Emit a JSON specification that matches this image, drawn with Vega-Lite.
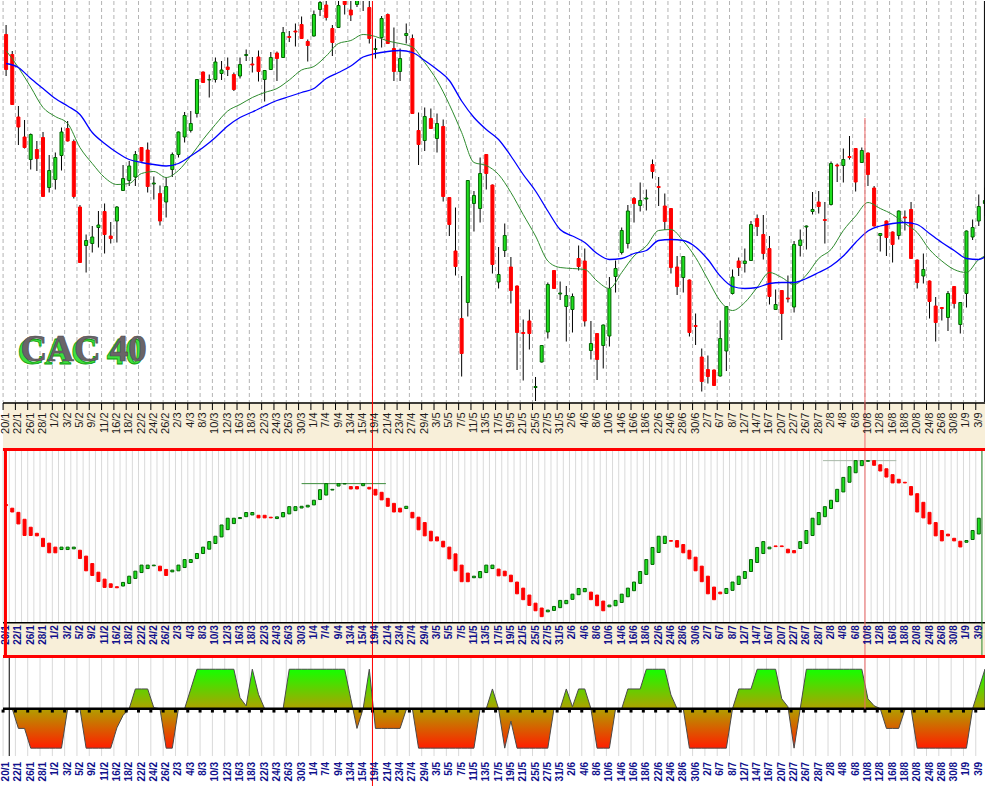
{
"$schema":"https://vega.github.io/schema/vega-lite/v6.json",
"padding":0,"spacing":0,"bounds":"flush","background":"white",
"config":{"view":{"stroke":null},"font":"Liberation Sans"},
"datasets":{"p":[
{"i":0,"d":"20/1","o":4033,"h":4052,"l":3950,"c":3963,"g":4001,"b":3975,"io":68.3,"ic":67.7,"s":0},
{"i":1,"d":"21/1","o":3993,"h":4000,"l":3892,"c":3893,"io":66.2,"ic":64.0,"s":0},
{"i":2,"d":"22/1","o":3868,"h":3890,"l":3812,"c":3848,"g":3967,"b":3967,"io":63.8,"ic":57.1,"s":-1},
{"i":3,"d":"25/1","o":3828,"h":3862,"l":3805,"c":3807,"io":59.8,"ic":50.4,"s":-1},
{"i":4,"d":"26/1","o":3783,"h":3835,"l":3763,"c":3833,"g":3928,"b":3945,"io":55.2,"ic":50.4,"s":-2},
{"i":5,"d":"27/1","o":3803,"h":3820,"l":3760,"c":3785,"io":51.7,"ic":50.2,"s":-2},
{"i":6,"d":"28/1","o":3827,"h":3838,"l":3708,"c":3709,"g":3887,"b":3925,"io":48.8,"ic":44.0,"s":-2},
{"i":7,"d":"29/1","o":3727,"h":3792,"l":3717,"c":3761,"io":46.0,"ic":40.4,"s":-2},
{"i":8,"d":"1/2","o":3743,"h":3797,"l":3723,"c":3787,"g":3869,"b":3905,"io":43.7,"ic":40.4,"s":-2},
{"i":9,"d":"2/2","o":3791,"h":3847,"l":3761,"c":3838,"io":42.3,"ic":43.7,"s":-2},
{"i":10,"d":"3/2","o":3845,"h":3860,"l":3819,"c":3820,"g":3855,"b":3890,"io":42.3,"ic":43.7,"s":0},
{"i":11,"d":"4/2","o":3819,"h":3823,"l":3705,"c":3709,"io":42.7,"ic":43.7,"s":0},
{"i":12,"d":"5/2","o":3688,"h":3692,"l":3576,"c":3577,"g":3807,"b":3873,"io":41.9,"ic":37.1,"s":0},
{"i":13,"d":"8/2","o":3611,"h":3633,"l":3557,"c":3621,"io":38.5,"ic":30.0,"s":-2},
{"i":14,"d":"9/2","o":3615,"h":3650,"l":3597,"c":3628,"g":3775,"b":3837,"io":34.2,"ic":27.3,"s":-2},
{"i":15,"d":"10/2","o":3647,"h":3680,"l":3607,"c":3652,"io":29.2,"ic":23.8,"s":-2},
{"i":16,"d":"11/2","o":3679,"h":3695,"l":3595,"c":3633,"g":3747,"b":3815,"io":25.2,"ic":20.4,"s":-2},
{"i":17,"d":"15/2","o":3630,"h":3658,"l":3615,"c":3625,"io":22.5,"ic":20.4,"s":-2},
{"i":18,"d":"16/2","o":3660,"h":3690,"l":3617,"c":3688,"g":3733,"b":3797,"io":20.8,"ic":20.2,"s":-0.97},
{"i":19,"d":"17/2","o":3721,"h":3772,"l":3720,"c":3745,"io":21.2,"ic":23.3,"s":-0.34},
{"i":20,"d":"18/2","o":3741,"h":3780,"l":3730,"c":3770,"g":3735,"b":3783,"io":22.7,"ic":26.9,"s":0},
{"i":21,"d":"19/2","o":3748,"h":3800,"l":3730,"c":3793,"io":25.6,"ic":29.8,"s":1},
{"i":22,"d":"22/2","o":3807,"h":3808,"l":3779,"c":3780,"g":3755,"b":3777,"io":29.0,"ic":33.3,"s":1},
{"i":23,"d":"23/2","o":3802,"h":3817,"l":3717,"c":3729,"io":31.3,"ic":33.3,"s":1},
{"i":24,"d":"24/2","o":3734,"h":3749,"l":3703,"c":3736,"g":3759,"b":3773,"io":32.9,"ic":33.3,"s":0.05},
{"i":25,"d":"25/2","o":3715,"h":3731,"l":3651,"c":3660,"io":32.7,"ic":30.0,"s":0},
{"i":26,"d":"26/2","o":3698,"h":3747,"l":3667,"c":3729,"g":3747,"b":3770,"io":30.8,"ic":27.3,"s":-2},
{"i":27,"d":"1/3","o":3763,"h":3797,"l":3748,"c":3793,"io":29.4,"ic":30.4,"s":-2},
{"i":28,"d":"2/3","o":3793,"h":3839,"l":3787,"c":3838,"g":3761,"b":3775,"io":30.0,"ic":33.3,"s":0},
{"i":29,"d":"3/3","o":3828,"h":3878,"l":3817,"c":3871,"io":31.9,"ic":36.5,"s":0},
{"i":30,"d":"4/3","o":3841,"h":3880,"l":3837,"c":3855,"g":3790,"b":3790,"io":34.8,"ic":36.5,"s":1},
{"i":31,"d":"5/3","o":3875,"h":3944,"l":3867,"c":3943,"io":37.1,"ic":40.0,"s":2},
{"i":32,"d":"8/3","o":3958,"h":3959,"l":3936,"c":3937,"g":3823,"b":3807,"io":40.0,"ic":43.7,"s":2},
{"i":33,"d":"9/3","o":3942,"h":3953,"l":3907,"c":3943,"io":42.5,"ic":46.9,"s":2},
{"i":34,"d":"10/3","o":3943,"h":3987,"l":3937,"c":3978,"g":3853,"b":3827,"io":45.8,"ic":50.0,"s":2},
{"i":35,"d":"11/3","o":3955,"h":3980,"l":3942,"c":3962,"io":49.6,"ic":56.5,"s":2},
{"i":36,"d":"12/3","o":3968,"h":3987,"l":3950,"c":3963,"g":3880,"b":3850,"io":53.8,"ic":60.4,"s":2},
{"i":37,"d":"15/3","o":3953,"h":3957,"l":3920,"c":3923,"io":57.3,"ic":60.4,"s":2},
{"i":38,"d":"16/3","o":3950,"h":3987,"l":3945,"c":3973,"g":3893,"b":3867,"io":60.2,"ic":60.8,"s":0.56},
{"i":39,"d":"17/3","o":3991,"h":4003,"l":3980,"c":3993,"io":61.3,"ic":63.7,"s":0.14},
{"i":40,"d":"18/3","o":3974,"h":3988,"l":3957,"c":3972,"g":3907,"b":3878,"io":62.3,"ic":63.7,"s":2},
{"i":41,"d":"19/3","o":3988,"h":4001,"l":3939,"c":3959,"io":62.1,"ic":60.6,"s":0.73},
{"i":42,"d":"22/3","o":3943,"h":3962,"l":3899,"c":3961,"g":3917,"b":3890,"io":62.1,"ic":60.6,"s":0},
{"i":43,"d":"23/3","o":3963,"h":3998,"l":3962,"c":3987,"io":61.0,"ic":60.6,"s":0},
{"i":44,"d":"24/3","o":3996,"h":3999,"l":3940,"c":3985,"g":3925,"b":3901,"io":60.2,"ic":61.2,"s":0},
{"i":45,"d":"25/3","o":3987,"h":4048,"l":3986,"c":4037,"io":61.2,"ic":63.7,"s":0},
{"i":46,"d":"26/3","o":4029,"h":4040,"l":4018,"c":4027,"g":3942,"b":3909,"io":62.9,"ic":67.1,"s":2},
{"i":47,"d":"29/3","o":4040,"h":4055,"l":4009,"c":4038,"io":64.8,"ic":67.1,"s":2},
{"i":48,"d":"30/3","o":4053,"h":4069,"l":4024,"c":4025,"g":3962,"b":3917,"io":66.3,"ic":67.3,"s":2},
{"i":49,"d":"31/3","o":4019,"h":4023,"l":3979,"c":4011,"io":66.9,"ic":67.9,"s":2},
{"i":50,"d":"1/4","o":4030,"h":4081,"l":4029,"c":4073,"g":3969,"b":3925,"io":68.1,"ic":70.8,"s":2},
{"i":51,"d":"6/4","o":4083,"h":4100,"l":4070,"c":4097,"io":71.2,"ic":76.9,"s":2},
{"i":52,"d":"7/4","o":4092,"h":4100,"l":4061,"c":4067,"g":3990,"b":3945,"io":73.8,"ic":80.4,"s":2},
{"i":53,"d":"8/4","o":4045,"h":4052,"l":3990,"c":4017,"io":76.7,"ic":77.1,"s":2},
{"i":54,"d":"9/4","o":4047,"h":4105,"l":4046,"c":4091,"g":4015,"b":3957,"io":79.0,"ic":80.4,"s":2},
{"i":55,"d":"12/4","o":4105,"h":4110,"l":4073,"c":4093,"io":80.2,"ic":80.4,"s":2},
{"i":56,"d":"13/4","o":4082,"h":4105,"l":4060,"c":4072,"g":4021,"b":3970,"io":78.7,"ic":77.3,"s":0.5},
{"i":57,"d":"14/4","o":4093,"h":4110,"l":4088,"c":4102,"io":78.7,"ic":77.3,"s":-1},
{"i":58,"d":"15/4","o":4118,"h":4125,"l":4080,"c":4106,"g":4033,"b":3988,"io":79.2,"ic":80.4,"s":0},
{"i":59,"d":"16/4","o":4087,"h":4105,"l":4015,"c":4025,"io":78.3,"ic":77.3,"s":2},
{"i":60,"d":"19/4","o":4003,"h":4025,"l":3985,"c":4005,"g":4029,"b":3995,"io":77.1,"ic":73.8,"s":-1},
{"i":61,"d":"20/4","o":4027,"h":4070,"l":4007,"c":4065,"io":75.4,"ic":71.0,"s":-1},
{"i":62,"d":"21/4","o":4073,"h":4075,"l":4014,"c":4015,"g":4020,"b":3999,"io":71.9,"ic":67.3,"s":-1},
{"i":63,"d":"22/4","o":4005,"h":4047,"l":3940,"c":3959,"io":69.0,"ic":64.0,"s":-1},
{"i":64,"d":"23/4","o":3959,"h":4005,"l":3940,"c":3985,"g":4015,"b":4001,"io":66.2,"ic":64.0,"s":-1},
{"i":65,"d":"26/4","o":4031,"h":4055,"l":4015,"c":4035,"io":66.0,"ic":67.3,"s":-0.05},
{"i":66,"d":"27/4","o":4025,"h":4033,"l":3874,"c":3875,"g":4008,"b":3997,"io":63.8,"ic":60.6,"s":0},
{"i":67,"d":"28/4","o":3841,"h":3877,"l":3772,"c":3813,"io":61.0,"ic":53.7,"s":-2},
{"i":68,"d":"29/4","o":3821,"h":3887,"l":3800,"c":3869,"g":3977,"b":3981,"io":57.9,"ic":50.2,"s":-2},
{"i":69,"d":"30/4","o":3865,"h":3885,"l":3844,"c":3845,"io":52.9,"ic":47.3,"s":-2},
{"i":70,"d":"3/5","o":3825,"h":3875,"l":3797,"c":3855,"g":3941,"b":3963,"io":49.6,"ic":47.3,"s":-2},
{"i":71,"d":"4/5","o":3849,"h":3863,"l":3699,"c":3709,"io":47.1,"ic":43.8,"s":-2},
{"i":72,"d":"5/5","o":3707,"h":3708,"l":3630,"c":3653,"g":3893,"b":3941,"io":43.7,"ic":36.9,"s":-2},
{"i":73,"d":"6/5","o":3600,"h":3687,"l":3551,"c":3569,"io":39.8,"ic":30.0,"s":-2},
{"i":74,"d":"7/5","o":3465,"h":3550,"l":3349,"c":3395,"g":3837,"b":3900,"io":33.3,"ic":23.7,"s":-2},
{"i":75,"d":"10/5","o":3497,"h":3742,"l":3469,"c":3741,"io":28.7,"ic":23.7,"s":-2},
{"i":76,"d":"11/5","o":3695,"h":3720,"l":3639,"c":3711,"g":3777,"b":3867,"io":26.0,"ic":26.9,"s":-2},
{"i":77,"d":"12/5","o":3685,"h":3787,"l":3657,"c":3755,"io":26.0,"ic":29.6,"s":0},
{"i":78,"d":"13/5","o":3793,"h":3794,"l":3723,"c":3755,"g":3771,"b":3843,"io":29.0,"ic":33.3,"s":0},
{"i":79,"d":"14/5","o":3732,"h":3733,"l":3555,"c":3573,"io":31.3,"ic":33.3,"s":1},
{"i":80,"d":"17/5","o":3538,"h":3608,"l":3525,"c":3553,"g":3753,"b":3823,"io":31.0,"ic":27.1,"s":0},
{"i":81,"d":"18/5","o":3601,"h":3655,"l":3588,"c":3631,"io":29.8,"ic":27.1,"s":-2},
{"i":82,"d":"19/5","o":3568,"h":3588,"l":3495,"c":3521,"g":3717,"b":3790,"io":27.5,"ic":23.7,"s":-0.63},
{"i":83,"d":"20/5","o":3530,"h":3531,"l":3362,"c":3437,"io":23.5,"ic":16.7,"s":-2},
{"i":84,"d":"21/5","o":3437,"h":3463,"l":3341,"c":3435,"g":3673,"b":3753,"io":20.0,"ic":13.3,"s":-2},
{"i":85,"d":"24/5","o":3460,"h":3483,"l":3403,"c":3435,"io":16.0,"ic":10.0,"s":-2},
{"i":86,"d":"25/5","o":3327,"h":3348,"l":3300,"c":3329,"g":3630,"b":3720,"io":11.3,"ic":6.9,"s":-2},
{"i":87,"d":"26/5","o":3378,"h":3412,"l":3377,"c":3411,"io":8.5,"ic":3.5,"s":-2},
{"i":88,"d":"27/5","o":3438,"h":3537,"l":3425,"c":3533,"g":3580,"b":3680,"io":6.3,"ic":7.3,"s":-2},
{"i":89,"d":"28/5","o":3561,"h":3562,"l":3524,"c":3525,"io":7.1,"ic":9.4,"s":0},
{"i":90,"d":"31/5","o":3514,"h":3539,"l":3502,"c":3516,"g":3567,"b":3643,"io":8.7,"ic":12.9,"s":0},
{"i":91,"d":"1/6","o":3489,"h":3530,"l":3419,"c":3511,"io":11.0,"ic":12.9,"s":1},
{"i":92,"d":"2/6","o":3483,"h":3515,"l":3437,"c":3509,"g":3565,"b":3630,"io":13.5,"ic":16.5,"s":0.1},
{"i":93,"d":"3/6","o":3585,"h":3611,"l":3561,"c":3569,"io":16.2,"ic":19.8,"s":1},
{"i":94,"d":"4/6","o":3580,"h":3605,"l":3449,"c":3460,"g":3563,"b":3617,"io":17.9,"ic":19.8,"s":1},
{"i":95,"d":"7/6","o":3401,"h":3460,"l":3383,"c":3415,"io":17.7,"ic":13.3,"s":0},
{"i":96,"d":"8/6","o":3435,"h":3436,"l":3342,"c":3383,"g":3540,"b":3595,"io":16.0,"ic":9.8,"s":-2},
{"i":97,"d":"9/6","o":3411,"h":3453,"l":3365,"c":3452,"io":12.5,"ic":6.9,"s":-2},
{"i":98,"d":"10/6","o":3430,"h":3548,"l":3409,"c":3525,"g":3525,"b":3583,"io":9.2,"ic":10.2,"s":-2},
{"i":99,"d":"11/6","o":3549,"h":3581,"l":3517,"c":3565,"io":9.8,"ic":12.9,"s":0},
{"i":100,"d":"14/6","o":3597,"h":3647,"l":3593,"c":3641,"g":3557,"b":3585,"io":11.7,"ic":16.5,"s":0},
{"i":101,"d":"15/6","o":3615,"h":3692,"l":3605,"c":3680,"io":15.0,"ic":20.0,"s":1},
{"i":102,"d":"16/6","o":3705,"h":3708,"l":3657,"c":3695,"g":3590,"b":3595,"io":18.5,"ic":23.5,"s":1},
{"i":103,"d":"17/6","o":3691,"h":3737,"l":3679,"c":3701,"io":22.7,"ic":29.6,"s":1},
{"i":104,"d":"18/6","o":3704,"h":3723,"l":3681,"c":3706,"g":3610,"b":3601,"io":27.9,"ic":36.5,"s":2},
{"i":105,"d":"21/6","o":3773,"h":3783,"l":3745,"c":3759,"io":33.7,"ic":43.5,"s":2},
{"i":106,"d":"22/6","o":3729,"h":3748,"l":3690,"c":3727,"g":3641,"b":3621,"io":40.6,"ic":50.0,"s":2},
{"i":107,"d":"23/6","o":3690,"h":3715,"l":3642,"c":3659,"io":45.8,"ic":50.0,"s":2},
{"i":108,"d":"24/6","o":3685,"h":3686,"l":3555,"c":3567,"g":3643,"b":3623,"io":47.5,"ic":47.1,"s":0.7},
{"i":109,"d":"25/6","o":3568,"h":3590,"l":3512,"c":3529,"io":47.5,"ic":43.7,"s":0},
{"i":110,"d":"28/6","o":3547,"h":3590,"l":3517,"c":3589,"g":3620,"b":3621,"io":45.2,"ic":40.4,"s":0},
{"i":111,"d":"29/6","o":3542,"h":3543,"l":3429,"c":3437,"io":41.9,"ic":36.9,"s":-2},
{"i":112,"d":"30/6","o":3451,"h":3475,"l":3412,"c":3449,"g":3587,"b":3608,"io":37.9,"ic":30.0,"s":-2},
{"i":113,"d":"1/7","o":3388,"h":3405,"l":3319,"c":3339,"io":32.7,"ic":23.7,"s":-2},
{"i":114,"d":"2/7","o":3363,"h":3391,"l":3335,"c":3349,"g":3543,"b":3583,"io":26.9,"ic":16.7,"s":-2},
{"i":115,"d":"5/7","o":3362,"h":3363,"l":3330,"c":3331,"io":20.6,"ic":13.3,"s":-2},
{"i":116,"d":"6/7","o":3350,"h":3461,"l":3349,"c":3425,"g":3500,"b":3550,"io":17.7,"ic":16.7,"s":-2},
{"i":117,"d":"7/7","o":3400,"h":3490,"l":3360,"c":3489,"io":16.9,"ic":19.8,"s":-2},
{"i":118,"d":"8/7","o":3515,"h":3563,"l":3513,"c":3548,"g":3481,"b":3529,"io":18.7,"ic":23.5,"s":0},
{"i":119,"d":"9/7","o":3580,"h":3587,"l":3550,"c":3567,"io":22.1,"ic":26.9,"s":1},
{"i":120,"d":"12/7","o":3575,"h":3605,"l":3557,"c":3580,"g":3497,"b":3525,"io":25.6,"ic":29.6,"s":1},
{"i":121,"d":"13/7","o":3581,"h":3660,"l":3580,"c":3653,"io":29.6,"ic":36.5,"s":1},
{"i":122,"d":"14/7","o":3665,"h":3673,"l":3630,"c":3649,"g":3527,"b":3527,"io":34.8,"ic":43.5,"s":2},
{"i":123,"d":"15/7","o":3633,"h":3672,"l":3583,"c":3595,"io":40.0,"ic":46.9,"s":2},
{"i":124,"d":"16/7","o":3605,"h":3630,"l":3493,"c":3509,"g":3557,"b":3535,"io":42.7,"ic":43.7,"s":2},
{"i":125,"d":"19/7","o":3483,"h":3523,"l":3482,"c":3493,"io":44.4,"ic":44.0,"s":2},
{"i":126,"d":"20/7","o":3521,"h":3522,"l":3422,"c":3475,"g":3547,"b":3537,"io":44.4,"ic":44.0,"s":0.5},
{"i":127,"d":"21/7","o":3506,"h":3551,"l":3497,"c":3504,"io":42.5,"ic":40.4,"s":0.1},
{"i":128,"d":"22/7","o":3488,"h":3620,"l":3477,"c":3613,"g":3533,"b":3537,"io":41.7,"ic":40.4,"s":-2},
{"i":129,"d":"23/7","o":3611,"h":3643,"l":3589,"c":3622,"io":42.9,"ic":46.9,"s":0},
{"i":130,"d":"26/7","o":3648,"h":3651,"l":3603,"c":3650,"g":3552,"b":3545,"io":45.8,"ic":53.3,"s":2},
{"i":131,"d":"27/7","o":3679,"h":3718,"l":3673,"c":3683,"io":50.4,"ic":60.4,"s":2},
{"i":132,"d":"28/7","o":3698,"h":3720,"l":3675,"c":3689,"g":3585,"b":3557,"io":56.7,"ic":63.7,"s":2},
{"i":133,"d":"30/7","o":3663,"h":3698,"l":3615,"c":3661,"io":61.3,"ic":67.1,"s":2},
{"i":134,"d":"2/8","o":3693,"h":3779,"l":3691,"c":3775,"g":3603,"b":3570,"io":66.0,"ic":70.8,"s":2},
{"i":135,"d":"3/8","o":3772,"h":3775,"l":3738,"c":3770,"io":70.0,"ic":77.1,"s":2},
{"i":136,"d":"4/8","o":3771,"h":3805,"l":3737,"c":3783,"g":3641,"b":3590,"io":75.6,"ic":84.0,"s":2},
{"i":137,"d":"5/8","o":3789,"h":3830,"l":3783,"c":3787,"io":81.2,"ic":90.2,"s":2},
{"i":138,"d":"6/8","o":3805,"h":3806,"l":3719,"c":3738,"g":3670,"b":3617,"io":86.7,"ic":93.7,"s":2},
{"i":139,"d":"9/8","o":3777,"h":3807,"l":3776,"c":3801,"io":90.8,"ic":93.7,"s":2},
{"i":140,"d":"10/8","o":3796,"h":3797,"l":3730,"c":3753,"g":3697,"b":3640,"io":93.3,"ic":93.7,"s":0.5},
{"i":141,"d":"11/8","o":3726,"h":3730,"l":3649,"c":3650,"io":93.7,"ic":91.0,"s":0.15},
{"i":142,"d":"12/8","o":3631,"h":3636,"l":3599,"c":3635,"g":3685,"b":3650,"io":91.3,"ic":87.7,"s":0},
{"i":143,"d":"13/8","o":3660,"h":3661,"l":3590,"c":3627,"io":89.0,"ic":84.2,"s":-1},
{"i":144,"d":"16/8","o":3638,"h":3639,"l":3577,"c":3613,"g":3673,"b":3655,"io":85.6,"ic":80.8,"s":-1},
{"i":145,"d":"17/8","o":3631,"h":3681,"l":3623,"c":3680,"io":82.9,"ic":80.8,"s":-1},
{"i":146,"d":"18/8","o":3668,"h":3681,"l":3641,"c":3666,"g":3655,"b":3657,"io":81.2,"ic":80.8,"s":-0.05},
{"i":147,"d":"19/8","o":3683,"h":3698,"l":3584,"c":3585,"io":78.7,"ic":73.8,"s":0},
{"i":148,"d":"20/8","o":3582,"h":3583,"l":3525,"c":3537,"g":3637,"b":3653,"io":74.6,"ic":64.0,"s":-2},
{"i":149,"d":"23/8","o":3550,"h":3595,"l":3535,"c":3563,"io":69.6,"ic":60.6,"s":-2},
{"i":150,"d":"24/8","o":3540,"h":3541,"l":3465,"c":3499,"g":3603,"b":3635,"io":63.8,"ic":57.1,"s":-2},
{"i":151,"d":"25/8","o":3490,"h":3508,"l":3419,"c":3457,"io":57.9,"ic":50.2,"s":-2},
{"i":152,"d":"26/8","o":3487,"h":3488,"l":3461,"c":3485,"g":3580,"b":3617,"io":53.3,"ic":47.3,"s":-2},
{"i":153,"d":"27/8","o":3467,"h":3520,"l":3440,"c":3515,"io":51.2,"ic":50.2,"s":-2},
{"i":154,"d":"30/8","o":3529,"h":3530,"l":3485,"c":3495,"g":3563,"b":3601,"io":48.8,"ic":47.3,"s":-2},
{"i":155,"d":"31/8","o":3453,"h":3498,"l":3435,"c":3497,"io":47.1,"ic":43.8,"s":-2},
{"i":156,"d":"1/9","o":3515,"h":3641,"l":3487,"c":3640,"g":3557,"b":3585,"io":46.5,"ic":47.5,"s":-2},
{"i":157,"d":"2/9","o":3628,"h":3663,"l":3622,"c":3647,"io":48.1,"ic":53.3,"s":0},
{"i":158,"d":"3/9","o":3660,"h":3713,"l":3650,"c":3689,"g":3583,"b":3583,"io":51.3,"ic":60.4,"s":1},
{"i":159,"d":"6/9","o":3695,"h":3727,"l":3670,"c":3701,"g":3590,"b":3588,"s":2}
]},
"vconcat":[
{
"width":985,"height":401,
"data":{"name":"p"},
"layer":[
{"transform":[{"filter":"datum.i % 2 == 0"}],"mark":{"type":"rule","color":"#b4b4b4","strokeDash":[4,3],"xOffset":-3},
 "encoding":{"x":{"field":"i","type":"quantitative","scale":{"domain":[-0.5,159.5],"nice":false,"zero":false,"padding":0},"axis":null}}},
{"mark":{"type":"rule","color":"#000000","clip":true},
 "encoding":{"x":{"field":"i","type":"quantitative","axis":null},
  "y":{"field":"l","type":"quantitative","scale":{"domain":[3298,4100],"nice":false,"zero":false,"padding":0},
   "axis":{"orient":"left","offset":-5,"values":[4038.6,3985.4,3932,3878.6,3825.4,3772,3718.6,3665.4,3612,3558.6,3505.4,3452,3398.6,3345.4],"labels":false,"grid":false,"ticks":true,"tickSize":3,"tickColor":"#000000","domain":true,"domainColor":"#000000","title":null}},
  "y2":{"field":"h"}}},
{"mark":{"type":"bar","width":3,"strokeWidth":1,"clip":true},
 "encoding":{"x":{"field":"i","type":"quantitative","axis":null},
  "y":{"field":"o","type":"quantitative","axis":null},"y2":{"field":"c"},
  "fill":{"condition":{"test":"datum.c >= datum.o","value":"#1ee01e"},"value":"#ff0000"},
  "stroke":{"condition":{"test":"datum.c >= datum.o","value":"#006400"},"value":"#ff0000"}}},
{"transform":[{"filter":"isValid(datum.g)"}],"mark":{"type":"line","color":"#2e8b2e","strokeWidth":1,"interpolate":"monotone","clip":true},
 "encoding":{"x":{"field":"i","type":"quantitative","axis":null},"y":{"field":"g","type":"quantitative","axis":null}}},
{"transform":[{"filter":"isValid(datum.b)"}],"mark":{"type":"line","color":"#0000ff","strokeWidth":1.3,"interpolate":"monotone","clip":true},
 "encoding":{"x":{"field":"i","type":"quantitative","axis":null},"y":{"field":"b","type":"quantitative","axis":null}}},
{"data":{"values":[{}]},"mark":{"type":"rule","color":"#000000","strokeWidth":1,"xOffset":-0.5},
 "encoding":{"x":{"datum":159,"type":"quantitative","axis":null}}},
{"data":{"values":[{}]},"mark":{"type":"rule","color":"#ff0000","strokeWidth":1,"xOffset":-3},
 "encoding":{"x":{"datum":60,"type":"quantitative","axis":null}}},
{"data":{"values":[{}]},"mark":{"type":"rule","color":"#f06a6a","strokeWidth":1,"xOffset":-3},
 "encoding":{"x":{"datum":140,"type":"quantitative","axis":null},"y":{"datum":3866,"type":"quantitative","axis":null},"y2":{"datum":3298}}},
{"data":{"values":[{}]},"mark":{"type":"text","font":"Liberation Serif","fontWeight":"bold","fontSize":37,"color":"#3ee03e","stroke":"#0c9a0c","strokeWidth":0.8,"dx":-3,"dy":3,"align":"center","baseline":"middle"},
 "encoding":{"x":{"datum":12.6,"type":"quantitative","axis":null},"y":{"datum":3402,"type":"quantitative","axis":null},"text":{"value":"CAC 40"}}},
{"data":{"values":[{}]},"mark":{"type":"text","font":"Liberation Serif","fontWeight":"bold","fontSize":37,"color":"#6a6468","stroke":"#4e4a4c","strokeWidth":0.6,"align":"center","baseline":"middle"},
 "encoding":{"x":{"datum":12.6,"type":"quantitative","axis":null},"y":{"datum":3402,"type":"quantitative","axis":null},"text":{"value":"CAC 40"}}}
]
},
{
"width":985,"height":46,"view":{"fill":"#f8efd9"},
"data":{"name":"p"},
"layer":[
{"transform":[{"filter":"datum.i % 2 == 0"}],"mark":{"type":"rule","color":"#000000","xOffset":-3},
 "encoding":{"x":{"field":"i","type":"quantitative","scale":{"domain":[-0.5,159.5],"nice":false,"zero":false,"padding":0},"axis":null},
  "y":{"datum":1,"type":"quantitative","scale":{"domain":[0,46],"reverse":true,"nice":false,"zero":false,"padding":0},"axis":null},"y2":{"datum":8}}},
{"data":{"values":[{}]},"mark":{"type":"rule","color":"#000000","strokeWidth":1.5},
 "encoding":{"y":{"datum":1,"type":"quantitative","axis":null}}},
{"data":{"values":[{}]},"mark":{"type":"rule","color":"#ff0000","xOffset":-3},
 "encoding":{"x":{"datum":60,"type":"quantitative","axis":null}}},
{"data":{"values":[{}]},"mark":{"type":"rule","color":"#f06a6a","xOffset":-3},
 "encoding":{"x":{"datum":140,"type":"quantitative","axis":null}}},
{"transform":[{"filter":"datum.i % 2 == 0"}],"mark":{"type":"text","angle":270,"align":"right","baseline":"middle","fontSize":11,"color":"#1a1a1a"},
 "encoding":{"x":{"field":"i","type":"quantitative","axis":null},"y":{"datum":10.5,"type":"quantitative","axis":null},"text":{"field":"d"}}}
]
},
{
"width":985,"height":210,"view":{"fill":"white"},
"data":{"name":"p"},
"layer":[
{"mark":{"type":"rule","color":"#dadada","xOffset":-3},
 "encoding":{"x":{"field":"i","type":"quantitative","scale":{"domain":[-0.5,159.5],"nice":false,"zero":false,"padding":0},"axis":null},
  "y":{"datum":101,"type":"quantitative","scale":{"domain":[-20.4,101],"nice":false,"zero":false,"padding":0},
   "axis":{"orient":"left","offset":-7,"values":[16.5,33.3,50.1,67.4,84.2],"labels":false,"domain":false,"grid":false,"ticks":true,"tickSize":3,"tickColor":"#000000","title":null}},
  "y2":{"datum":0}}},
{"data":{"values":[{}]},"mark":{"type":"rect","color":"#f8efd9"},
 "encoding":{"y":{"datum":0,"type":"quantitative","axis":null},"y2":{"datum":-20.4}}},
{"data":{"values":[{}]},"mark":{"type":"rule","color":"#000000","strokeWidth":1.5},
 "encoding":{"y":{"datum":0,"type":"quantitative","axis":null}}},
{"data":{"values":[{"a":48,"z":61.7,"v":80.4}]},"mark":{"type":"rule","color":"#3c8c3c","strokeWidth":1},
 "encoding":{"x":{"field":"a","type":"quantitative","axis":null},"x2":{"field":"z"},"y":{"field":"v","type":"quantitative","axis":null}}},
{"data":{"values":[{"a":132.7,"z":144.6,"v":93.7}]},"mark":{"type":"rule","color":"#a9b9a9","strokeWidth":1},
 "encoding":{"x":{"field":"a","type":"quantitative","axis":null},"x2":{"field":"z"},"y":{"field":"v","type":"quantitative","axis":null}}},
{"transform":[{"filter":"isValid(datum.io)"}],"mark":{"type":"bar","width":3,"strokeWidth":1},
 "encoding":{"x":{"field":"i","type":"quantitative","axis":null},
  "y":{"field":"io","type":"quantitative","axis":null},"y2":{"field":"ic"},
  "fill":{"condition":{"test":"datum.ic >= datum.io","value":"#1ee01e"},"value":"#ff0000"},
  "stroke":{"condition":{"test":"datum.ic >= datum.io","value":"#006400"},"value":"#ff0000"}}},
{"data":{"values":[{}]},"mark":{"type":"rule","color":"#ff0000","xOffset":-3},
 "encoding":{"x":{"datum":60,"type":"quantitative","axis":null}}},
{"data":{"values":[{}]},"mark":{"type":"rule","color":"#f06a6a","xOffset":-3},
 "encoding":{"x":{"datum":140,"type":"quantitative","axis":null}}},
{"data":{"values":[{}]},"mark":{"type":"rule","color":"#2a8a2a","xOffset":-3},
 "encoding":{"x":{"datum":159,"type":"quantitative","axis":null}}},
{"transform":[{"filter":"datum.i % 2 == 0"}],"mark":{"type":"text","angle":270,"align":"right","baseline":"middle","fontSize":10,"fontWeight":"bold","color":"#10108c"},
 "encoding":{"x":{"field":"i","type":"quantitative","axis":null},"y":{"datum":-1.5,"type":"quantitative","axis":null},"text":{"field":"d"}}},
{"data":{"values":[{}]},"mark":{"type":"rule","color":"#ff0000","strokeWidth":3},
 "encoding":{"y":{"datum":100.2,"type":"quantitative","axis":null}}},
{"data":{"values":[{}]},"mark":{"type":"rule","color":"#ff0000","strokeWidth":3},
 "encoding":{"y":{"datum":-19.6,"type":"quantitative","axis":null}}},
{"data":{"values":[{}]},"mark":{"type":"rule","color":"#ff0000","strokeWidth":3},
 "encoding":{"x":{"datum":-0.1,"type":"quantitative","axis":null}}},
{"data":{"values":[{}]},"mark":{"type":"rule","color":"#ff0000","strokeWidth":3},
 "encoding":{"x":{"datum":159.25,"type":"quantitative","axis":null}}}
]
},
{
"width":985,"height":129,"view":{"fill":"white"},
"data":{"name":"p"},
"layer":[
{"transform":[{"filter":"datum.i % 2 == 0"}],"mark":{"type":"rule","color":"#d9d9d9","xOffset":-3},
 "encoding":{"x":{"field":"i","type":"quantitative","scale":{"domain":[-0.5,159.5],"nice":false,"zero":false,"padding":0},"axis":null},
  "y":{"datum":2.57,"type":"quantitative","scale":{"domain":[-3.97,2.57],"nice":false,"zero":false,"padding":0},
   "axis":{"orient":"left","offset":-6,"values":[-2.4,-1.6,-0.8,0,0.8,1.6,2.4],"labels":false,"domain":false,"grid":false,"ticks":true,"tickSize":3,"tickColor":"#000000","title":null}},
  "y2":{"datum":-2.4}}},
{"mark":{"type":"area","interpolate":"linear","stroke":"#4a4a4a","strokeWidth":1,
  "fill":{"x1":0,"y1":0,"x2":0,"y2":1,"gradient":"linear","stops":[{"offset":0,"color":"#14ff00"},{"offset":0.5,"color":"#b0a000"},{"offset":1,"color":"#ff1e00"}]}},
 "encoding":{"x":{"field":"i","type":"quantitative","axis":null},"y":{"field":"s","type":"quantitative","axis":null},"y2":{"datum":0}}},
{"data":{"values":[{}]},"mark":{"type":"rule","color":"#000000","strokeWidth":2.5},
 "encoding":{"y":{"datum":0,"type":"quantitative","axis":null}}},
{"transform":[{"filter":"datum.i % 2 == 0"}],"mark":{"type":"square","color":"#000000","size":9,"filled":true,"opacity":1,"xOffset":-3},
 "encoding":{"x":{"field":"i","type":"quantitative","axis":null},"y":{"datum":-0.12,"type":"quantitative","axis":null}}},
{"data":{"values":[{}]},"mark":{"type":"rule","color":"#000000","xOffset":-3},
 "encoding":{"x":{"datum":1,"type":"quantitative","axis":null},"y":{"datum":2.57,"type":"quantitative","axis":null},"y2":{"datum":-2.4}}},
{"data":{"values":[{}]},"mark":{"type":"rule","color":"#ff0000","xOffset":-3},
 "encoding":{"x":{"datum":60,"type":"quantitative","axis":null}}},
{"data":{"values":[{}]},"mark":{"type":"rule","color":"#f06a6a","xOffset":-3},
 "encoding":{"x":{"datum":140,"type":"quantitative","axis":null},"y":{"datum":2.57,"type":"quantitative","axis":null},"y2":{"datum":0}}},
{"transform":[{"filter":"datum.i % 2 == 0"}],"mark":{"type":"text","angle":270,"align":"right","baseline":"middle","fontSize":10,"fontWeight":"bold","color":"#10108c"},
 "encoding":{"x":{"field":"i","type":"quantitative","axis":null},"y":{"datum":-2.7,"type":"quantitative","axis":null},"text":{"field":"d"}}}
]
}
]
}
